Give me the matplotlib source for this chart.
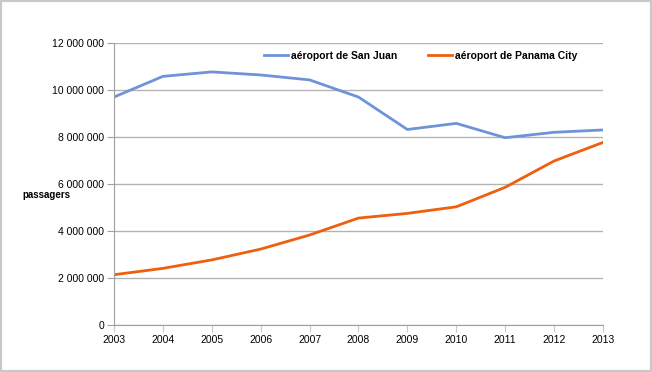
import matplotlib.pyplot as plt
from matplotlib.patches import Rectangle
from matplotlib.ticker import FuncFormatter

# Passenger counts per year
years = [2003, 2004, 2005, 2006, 2007, 2008, 2009, 2010, 2011, 2012, 2013]
san_juan = [9700000, 10580000, 10770000, 10640000, 10430000, 9700000,
            8320000, 8580000, 7970000, 8200000, 8300000]
panama_city = [2140000, 2410000, 2770000, 3230000, 3830000, 4550000,
               4750000, 5030000, 5860000, 6980000, 7770000]
y_ticks = [0, 2000000, 4000000, 6000000, 8000000, 10000000, 12000000]

plt.rcParams['font.family'] = ['Liberation Sans', 'DejaVu Sans']

fig = plt.figure(figsize=(6.52, 3.72), dpi=100)
ax = fig.add_axes([0.1748, 0.1263, 0.75, 0.7581])

ax.plot(years, san_juan, color='#6f93d8', linewidth=2, label='aéroport de San Juan')
ax.plot(years, panama_city, color='#ee5f0e', linewidth=2, label='aéroport de Panama City')

ax.set_xlim(2003, 2013)
ax.set_ylim(0, 12000000)
ax.set_xticks(years)
ax.set_yticks(y_ticks)
ax.yaxis.set_major_formatter(FuncFormatter(lambda v, p: f"{int(v):,}".replace(",", " ")))
ax.grid(axis='y', color='#b3b3b3', linewidth=1)
ax.set_axisbelow(True)

for side in ['top', 'right']:
    ax.spines[side].set_visible(False)
for side in ['left', 'bottom']:
    ax.spines[side].set_color('#a0a0a0')
ax.tick_params(axis='y', colors='#a0a0a0', length=5, labelsize=7.5, labelcolor='black', pad=2)
ax.tick_params(axis='x', colors='#c8c8c8', length=5, labelsize=7.5, labelcolor='black', pad=2)

fig.text(0.034, 0.475, 'passagers', fontsize=7, fontweight='bold', va='center')

ax.legend(loc='center', bbox_to_anchor=(0.627, 0.954), ncol=2, frameon=False,
          prop={'size': 7.5, 'weight': 'bold'}, handlelength=2.3, columnspacing=2.9,
          handletextpad=0.3)

# grey frame around the whole picture
fig.patches.append(Rectangle((0, 0), 1, 1, transform=fig.transFigure, fill=False,
                             edgecolor='#c8c8c8', linewidth=3))

fig.savefig('out.png', dpi=100)
